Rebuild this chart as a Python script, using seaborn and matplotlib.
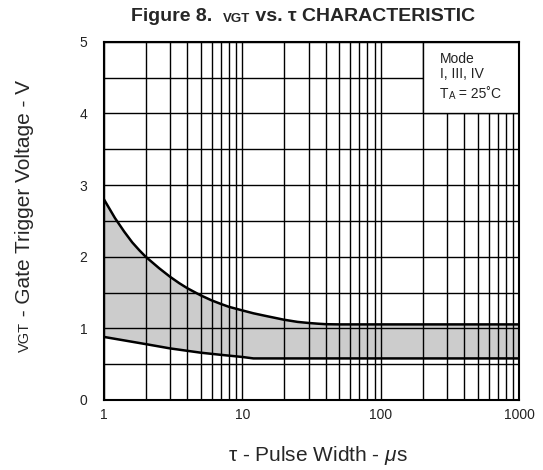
import matplotlib
matplotlib.use("Agg")
import matplotlib.pyplot as plt
import seaborn as sns
import pandas as pd
import numpy as np
from matplotlib.patches import Rectangle

# pulse width (us) and gate trigger voltage bounds (V)
tau_upper = [1, 1.2, 1.4, 1.6, 1.8, 2, 2.5, 3, 3.5, 4, 5, 6, 7, 8, 10, 12, 15, 20,
             25, 30, 35, 40, 50, 1000]
vgt_upper = [2.80, 2.54, 2.35, 2.20, 2.09, 2.00, 1.84, 1.72, 1.63, 1.56, 1.46, 1.39,
             1.34, 1.30, 1.25, 1.21, 1.17, 1.12, 1.09, 1.075, 1.065, 1.058, 1.055, 1.055]
tau_lower = [1, 2, 3, 5, 7, 10, 12, 1000]
vgt_lower = [0.88, 0.78, 0.72, 0.66, 0.63, 0.6, 0.58, 0.58]

x_ticks = [1, 10, 100, 1000]
x_tick_labels = ["1", "10", "100", "1000"]
y_ticks = [0, 1, 2, 3, 4, 5]

sns.set_style("white")
plt.rcParams['font.family'] = ['Liberation Sans', 'DejaVu Sans']
plt.rcParams['mathtext.fontset'] = 'custom'
plt.rcParams['mathtext.it'] = 'Liberation Sans:italic'
plt.rcParams['mathtext.rm'] = 'Liberation Sans'

fig = plt.figure(figsize=(5.43, 4.70), dpi=100)
ax = fig.add_axes([0.1915, 0.149, 0.765, 0.762])

up = pd.DataFrame({"tau": tau_upper, "v": vgt_upper})
lo = pd.DataFrame({"tau": tau_lower, "v": vgt_lower})

# shaded band between the curves
xs = np.array(sorted(set(tau_upper) | set(tau_lower)), dtype=float)
yu = np.interp(np.log10(xs), np.log10(tau_upper), vgt_upper)
yl = np.interp(np.log10(xs), np.log10(tau_lower), vgt_lower)
ax.fill_between(xs, yl, yu, color="#cccccc", lw=0, zorder=1)

ax.set_xscale("log")
ax.set_xlim(1, 1000)
ax.set_ylim(0, 5)

# grid
ax.set_xticks(x_ticks)
ax.set_xticklabels(x_tick_labels)
ax.set_xticks([m * d for d in [1, 10, 100] for m in range(2, 10)], minor=True)
ax.set_yticks(y_ticks)
ax.set_yticks([0.5, 1.5, 2.5, 3.5, 4.5], minor=True)
ax.grid(True, which="both", color="black", lw=1.0, zorder=2)
ax.set_axisbelow(False)
ax.tick_params(which="both", length=0, labelsize=10, colors="#222222")
ax.tick_params(axis="y", pad=12)
ax.tick_params(axis="x", pad=6)

sns.lineplot(data=up, x="tau", y="v", color="black", lw=1.8, ax=ax, zorder=3)
sns.lineplot(data=lo, x="tau", y="v", color="black", lw=1.8, ax=ax, zorder=3)
ax.set_xlabel("")
ax.set_ylabel("")

for s in ax.spines.values():
    s.set_color("black")
    s.set_linewidth(1.5)
    s.set_zorder(4)

# condition box top right
ax.add_patch(Rectangle((200, 4.0), 800, 1.0, facecolor="white", edgecolor="black",
                       lw=1.0, zorder=3))
ax.text(268, 4.76, "Mode", fontsize=10, va="center", ha="left", zorder=5, color="#222222")
ax.text(268, 4.55, "I, III, IV", fontsize=10, va="center", ha="left", zorder=5,
        color="#222222")
ta = ax.text(268, 4.22, "T", fontsize=10, va="baseline", ha="left", zorder=5,
             color="#222222")
ta2 = ax.annotate("A", xy=(1, 0), xycoords=ta, fontsize=7, va="bottom", ha="left",
                  zorder=5, color="#222222", annotation_clip=False)
ax.annotate(" = 25˚C", xy=(1, 0), xycoords=ta2, fontsize=10, va="bottom", ha="left",
            zorder=5, color="#222222", annotation_clip=False)

# x label
fig.text(0.585, 0.031, "τ - Pulse Width - $\\mathit{\\mu}$s", fontsize=15,
         ha="center", va="center")

# y label, with small VGT
y1 = fig.text(0.046, 0.25, "VGT", rotation=90, fontsize=10.5, ha="center", va="bottom")
ax.annotate(" - Gate Trigger Voltage - V", xy=(0.5, 1), xycoords=y1, rotation=90,
            fontsize=15, ha="center", va="bottom", annotation_clip=False)

# title, with small VGT
t1 = fig.text(0.241, 0.956, "Figure 8.  ", fontsize=14, fontweight="bold",
              ha="left", va="baseline")
t2 = ax.annotate("VGT", xy=(1, 0), xycoords=t1, fontsize=9.5, fontweight="bold",
                 ha="left", va="bottom", annotation_clip=False)
ax.annotate(" vs. τ CHARACTERISTIC", xy=(1, 0), xycoords=t2, fontsize=14,
            fontweight="bold", ha="left", va="bottom", annotation_clip=False)

fig.savefig("out.png", dpi=100)
